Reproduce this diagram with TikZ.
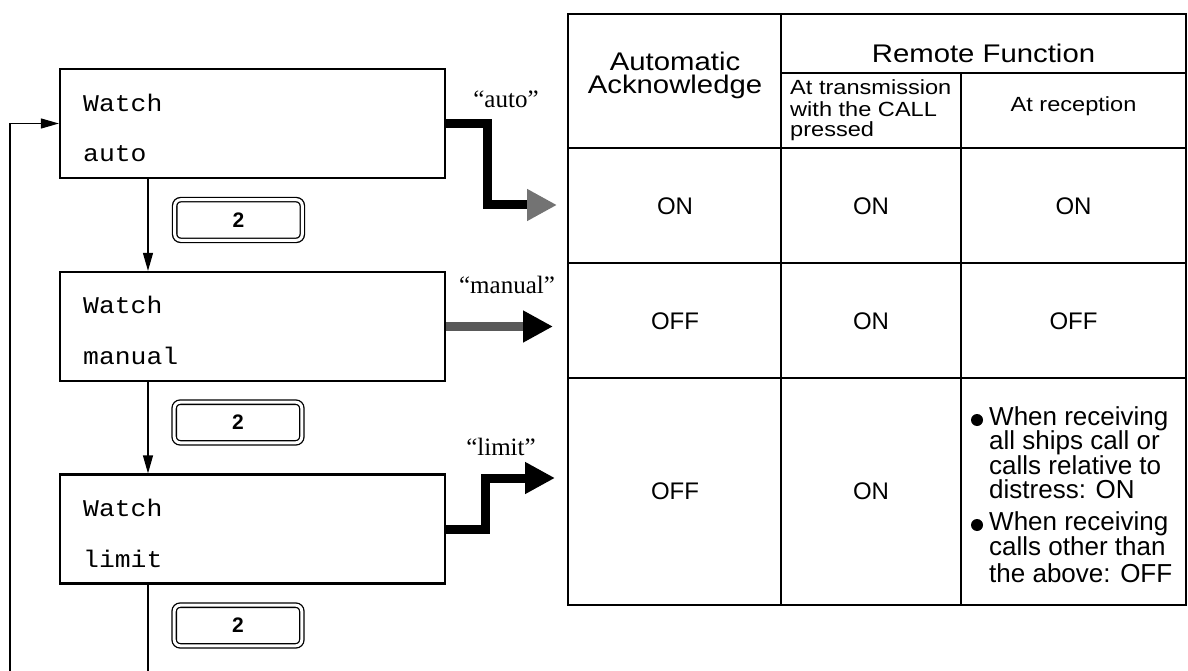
\documentclass[tikz,border=0pt]{standalone}
\usepackage{fontspec}
\setmainfont{Liberation Sans}
\newfontfamily\qfont{Liberation Serif}
\newfontfamily\mfont{Liberation Mono}[FakeStretch=1.1]
\newfontfamily\hfont{Liberation Sans}[FakeStretch=1.15]
\usetikzlibrary{arrows.meta}
\begin{document}
\begin{tikzpicture}[x=1pt,y=-1pt,
  wbox/.style={draw, line width=2.2pt, minimum width=385pt, minimum height=109pt, inner sep=0pt},
  wtext/.style={anchor=base west, inner sep=0pt, font=\mfont\fontsize{24}{24}\selectfont},
  keybtn/.style={draw, line width=1.3pt, double=white, double distance=3pt, rounded corners=6pt,
    minimum width=127.6pt, minimum height=40.6pt, inner sep=0pt, font=\bfseries\fontsize{21}{21}\selectfont},
  thinarr/.style={line width=1.2pt, -{Triangle[length=18pt,width=10pt]}},
  thinline/.style={line width=1.2pt},
  fat/.style={line width=9pt, line join=miter},
  qlab/.style={anchor=base, inner sep=0pt, font=\qfont\fontsize{25}{25}\selectfont},
  tline/.style={line width=2pt},
  hbig/.style={inner sep=0pt, font=\hfont\fontsize{25.5}{23}\selectfont},
  hsmall/.style={inner sep=0pt, font=\hfont\fontsize{20.5}{21}\selectfont},
  cell/.style={inner sep=0pt, font=\fontsize{24}{24}\selectfont},
  btext/.style={anchor=base west, inner sep=0pt, font=\fontsize{26}{24.5}\selectfont},
  bdot/.style={circle, fill=black, inner sep=0pt, minimum size=12pt}
]
\useasboundingbox (0,0) rectangle (1188,671);

% Watch boxes
\node[wbox] (auto) at (252.5,123.5) {};
\node[wbox] (manual) at (252.5,326.5) {};
\node[wbox] (limit) at (252.5,529) {};
\node[wtext] (autoW) at (83,112) {Watch};
\node[wtext] (autoA) at (83,162) {auto};
\node[wtext] (manW) at (83,313) {Watch};
\node[wtext] (manA) at (83,364) {manual};
\node[wtext] (limW) at (83,516) {Watch};
\node[wtext] (limA) at (83,567) {limit};

% key buttons
\node[keybtn] (k1) at (238.5,220) {2};
\node[keybtn] (k2) at (238,422.5) {2};
\node[keybtn] (k3) at (238,625.5) {2};

% thin flow arrows
\coordinate (vx) at (148,0);
\coordinate (botA) at (148,671);
\coordinate (botB) at (10,671);
\draw[thinarr] (auto.south -| vx) -- (manual.north -| vx);
\draw[thinarr] (manual.south -| vx) -- (limit.north -| vx);
\draw[thinline] (limit.south -| vx) -- (botA);
\draw[thinarr] (botB) |- (auto.west);

% quoted labels
\node[qlab] (qa) at (506,108) {“auto”};
\node[qlab] (qm) at (507,293) {“manual”};
\node[qlab] (ql) at (501,455) {“limit”};

% thick arrows
\coordinate (autoB) at (487,205);
\coordinate (autoT) at (557,205);
\draw[fat, draw=black, -{Triangle[length=30pt,width=30pt,color=black!55]}] (auto.east) -| (autoB) -- (autoT);
\coordinate (manT) at (553,326.5);
\draw[fat, draw=black!65, -{Triangle[length=30pt,width=30pt,color=black]}] (manual.east) -- (manT);
\coordinate (limB) at (485,478);
\coordinate (limT) at (555,478);
\draw[fat, draw=black, -{Triangle[length=30pt,width=30pt]}] (limit.east) -| (limB) -- (limT);

% table
\draw[tline] (568,14) rectangle (1186,605);
\draw[tline] (781,14) -- (781,605);
\draw[tline] (961,73) -- (961,605);
\draw[tline] (781,73) -- (1186,73);
\draw[line width=2.6pt] (568,148) -- (1186,148);
\draw[tline] (568,263) -- (1186,263);
\draw[tline] (568,378) -- (1186,378);

\node[hbig, align=center] (hAA) at (675,75) {Automatic\\Acknowledge};
\node[hbig, anchor=base] (hRF) at (983.5,63) {Remote Function};
\node[hsmall, anchor=base west] (hT1) at (790,95) {At transmission};
\node[hsmall, anchor=base west] (hT2) at (790,117) {with the CALL};
\node[hsmall, anchor=base west] (hT3) at (790,137) {pressed};
\node[hsmall, anchor=base] (hR) at (1073.5,112) {At reception};

\node[cell] (c11) at (675,206) {ON};
\node[cell] (c12) at (871,206) {ON};
\node[cell] (c13) at (1073.5,206) {ON};
\node[cell] (c21) at (675,321) {OFF};
\node[cell] (c22) at (871,321) {ON};
\node[cell] (c23) at (1073.5,321) {OFF};
\node[cell] (c31) at (675,491) {OFF};
\node[cell] (c32) at (871,491) {ON};

\node[bdot] (b1) at (977,420) {};
\node[btext] (t1) at (989,425) {When receiving};
\node[btext] (t2) at (989,449) {all ships call or};
\node[btext] (t3) at (989,474) {calls relative to};
\node[btext] (t4) at (989,498) {distress: ON};
\node[bdot] (b2) at (977,525) {};
\node[btext] (t5) at (989,530) {When receiving};
\node[btext] (t6) at (989,555) {calls other than};
\node[btext] (t7) at (989,582) {the above: OFF};
\end{tikzpicture}
\end{document}
